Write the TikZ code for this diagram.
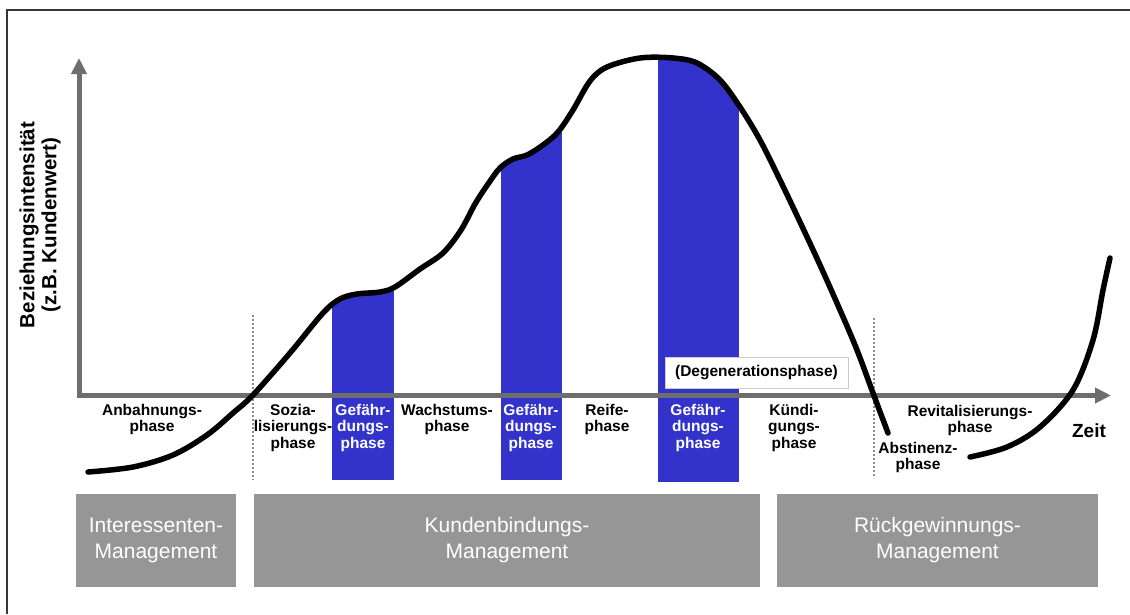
\documentclass[tikz,border=0pt]{standalone}
\usepackage{fontspec}
\setmainfont{Liberation Sans}
\usetikzlibrary{arrows.meta}
\definecolor{barblue}{RGB}{51,51,204}
\definecolor{axisgray}{RGB}{110,110,110}
\definecolor{boxgray}{RGB}{150,150,150}
\definecolor{framegray}{RGB}{55,55,55}
\definecolor{dotgray}{RGB}{140,140,140}
\begin{document}
\begin{tikzpicture}[x=1pt,y=-1pt,
  axisline/.style={draw=axisgray,line width=5pt,{Triangle[length=16pt,width=15pt]}-{Triangle[length=16pt,width=15pt]}},
  curveline/.style={draw=black,line width=5.5pt,line cap=round,line join=round},
  dotline/.style={draw=dotgray,line width=2pt,dotted},
  lbl/.style={font=\bfseries\fontsize{15.5}{16.5}\selectfont,align=center,inner sep=0pt,anchor=north,text=black},
  wlbl/.style={lbl,text=white},
  mgmt/.style={fill=boxgray,draw=none,text=white,font=\fontsize{21}{26}\selectfont,align=center,inner sep=0pt},
  degbox/.style={draw=black!20,fill=white,line width=1pt,font=\bfseries\fontsize{15.5}{17}\selectfont,inner sep=0pt}]
\useasboundingbox (0,0) rectangle (1130,614);
% frame
\draw[framegray,line width=2pt] (6.5,614) -- (6.5,9.5) -- (1130,9.5);
% bars clipped under curve
\begin{scope}
\clip plot[smooth,tension=0.55] coordinates {(88,472) (133,467) (173,455) (207,435) (233,413) (253,395) (290,353) (323,313) (340,299) (357,294) (380,292) (395,287) (420,269) (443,253) (461,230) (475,204) (488,184) (500,168) (513,159) (527,155) (543,145) (558,132) (573,110) (590,81) (607,67) (640,58) (673,58) (697,63) (720,80) (740,107) (760,140) (780,180) (800,222) (820,265) (840,310) (857,350) (873,393) (888,433)} -- (888,500) -- (88,500) -- cycle;
\fill[barblue] (332,40) rectangle (394,480);
\fill[barblue] (501,40) rectangle (562,480);
\fill[barblue] (658,40) rectangle (739,482);
\end{scope}
% dotted separators
\coordinate (d1t) at (253,315); \coordinate (d1b) at (253,480);
\coordinate (d2t) at (874,318); \coordinate (d2b) at (874,478);
\draw[dotline] (d1t) -- (d1b);
\draw[dotline] (d2t) -- (d2b);
% axes
\coordinate (ytip) at (79,58);
\coordinate (O) at (79,395.5);
\coordinate (xtip) at (1111,395.5);
\draw[axisline] (ytip) -- (O) -- (xtip);
% curves
\draw[curveline] plot[smooth,tension=0.55] coordinates {(88,472) (133,467) (173,455) (207,435) (233,413) (253,395) (290,353) (323,313) (340,299) (357,294) (380,292) (395,287) (420,269) (443,253) (461,230) (475,204) (488,184) (500,168) (513,159) (527,155) (543,145) (558,132) (573,110) (590,81) (607,67) (640,58) (673,58) (697,63) (720,80) (740,107) (760,140) (780,180) (800,222) (820,265) (840,310) (857,350) (873,393) (888,433)};
\draw[curveline] plot[smooth,tension=0.55] coordinates {(970,457) (1007,447) (1040,427) (1073,390) (1093,340) (1103,290) (1110,258)};
% degeneration box
\node[degbox,minimum width=183pt,minimum height=31pt] (deg) at (756.5,372.5) {(Degenerationsphase)};
% phase labels
\node[lbl] (anb) at (152,404) {Anbahnungs-\\phase};
\node[lbl] (soz) at (293,404) {Sozia-\\lisierungs-\\phase};
\node[wlbl] (gef1) at (363,404) {Gefähr-\\dungs-\\phase};
\node[lbl] (wach) at (447,404) {Wachstums-\\phase};
\node[wlbl] (gef2) at (531,404) {Gefähr-\\dungs-\\phase};
\node[lbl] (reif) at (607,404) {Reife-\\phase};
\node[wlbl] (gef3) at (698,404) {Gefähr-\\dungs-\\phase};
\node[lbl] (kuen) at (794,404) {Kündi-\\gungs-\\phase};
\node[lbl] (revi) at (970,405) {Revitalisierungs-\\phase};
\node[lbl] (abst) at (918,442) {Abstinenz-\\phase};
\node[font=\bfseries\fontsize{19}{22}\selectfont,inner sep=0pt] (zeit) at (1089,431) {Zeit};
% y label
\node[rotate=90,font=\bfseries\fontsize{20.5}{22}\selectfont,align=center,inner sep=0pt] (ylab) at (40,225) {Beziehungsintensität\\(z.B. Kundenwert)};
% management boxes
\node[mgmt,minimum width=160pt,minimum height=93pt] (m1) at (156,540.5) {Interessenten-\\Management};
\node[mgmt,minimum width=506pt,minimum height=93pt] (m2) at (507,540.5) {Kundenbindungs-\\Management};
\node[mgmt,minimum width=321pt,minimum height=93pt] (m3) at (937.5,540.5) {Rückgewinnungs-\\Management};
\end{tikzpicture}
\end{document}
